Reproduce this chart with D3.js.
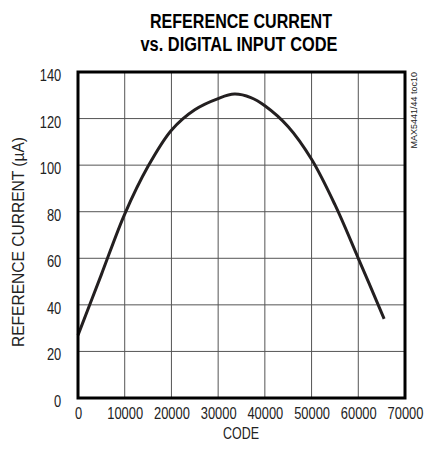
<!DOCTYPE html>
<html>
<head>
<meta charset="utf-8">
<script src="https://cdn.jsdelivr.net/npm/d3@7"></script>
<style>
  body { margin: 0; background: #fff; }
  text { font-family: "Liberation Sans", Arial, sans-serif; }
</style>
</head>
<body>
<svg width="425" height="454"></svg>
<script>
const svg = d3.select("svg");

// data
const codes = [0, 5000, 10000, 15000, 20000, 25000, 30000, 33500, 37000,
  40000, 45000, 50000, 55000, 60000, 65535];
const currents = [27, 53, 79, 99.5, 115, 123.8, 128.6, 130.5, 129,
  125.5, 116.5, 102.5, 83, 60, 34];
const xTicks = [0, 10000, 20000, 30000, 40000, 50000, 60000, 70000];
const yTicks = [0, 20, 40, 60, 80, 100, 120, 140];

const margin = { top: 72, right: 20, bottom: 56, left: 78 };
const plotW = 405 - margin.left;
const plotH = 398 - margin.top;
const narrow = "scale(0.76,1)";

const x = d3.scaleLinear().domain([0, 70000]).range([0, plotW]);
const y = d3.scaleLinear().domain([0, 140]).range([plotH, 0]);

// title
const title = svg.append("g")
  .attr("font-weight", "bold")
  .attr("font-size", "20px")
  .attr("text-anchor", "middle")
  .attr("fill", "#000");
title.append("text").attr("x", 241).attr("y", 28)
  .attr("textLength", 182).attr("lengthAdjust", "spacingAndGlyphs")
  .text("REFERENCE CURRENT");
title.append("text").attr("x", 239).attr("y", 51)
  .attr("textLength", 197).attr("lengthAdjust", "spacingAndGlyphs")
  .text("vs. DIGITAL INPUT CODE");

const g = svg.append("g")
  .attr("transform", `translate(${margin.left},${margin.top})`);

// grid
g.selectAll(".vgrid")
  .data(xTicks.slice(1, -1))
  .enter().append("line")
  .attr("x1", d => x(d)).attr("x2", d => x(d))
  .attr("y1", 0).attr("y2", plotH)
  .attr("stroke", "#555").attr("stroke-width", 1);

g.selectAll(".hgrid")
  .data(yTicks.slice(1, -1))
  .enter().append("line")
  .attr("x1", 0).attr("x2", plotW)
  .attr("y1", d => y(d)).attr("y2", d => y(d))
  .attr("stroke", "#555").attr("stroke-width", 1);

// axes (labels only, no tick marks)
const xAxis = g.append("g")
  .attr("transform", `translate(0,${plotH})`)
  .call(d3.axisBottom(x).tickValues(xTicks).tickSize(0).tickPadding(9).tickFormat(d3.format("d")));
const yAxis = g.append("g")
  .call(d3.axisLeft(y).tickValues(yTicks).tickSize(0).tickPadding(22));
[xAxis, yAxis].forEach(a => {
  a.select(".domain").remove();
  a.selectAll("text")
    .attr("font-size", "17px")
    .attr("fill", "#222")
    .attr("transform", narrow)
    .style("font-family", '"Liberation Sans", Arial, sans-serif');
});
yAxis.selectAll("text").attr("dy", "0.5em");

// curve
const line = d3.line()
  .x((d, i) => x(codes[i]))
  .y(d => y(d))
  .curve(d3.curveCatmullRom);

g.append("path")
  .attr("d", line(currents))
  .attr("fill", "none")
  .attr("stroke", "#231f20")
  .attr("stroke-width", 3);

// frame
g.append("rect")
  .attr("x", 0).attr("y", 0)
  .attr("width", plotW).attr("height", plotH)
  .attr("fill", "none")
  .attr("stroke", "#000")
  .attr("stroke-width", 3);

// axis titles
svg.append("text")
  .attr("x", 241).attr("y", 439)
  .attr("text-anchor", "middle")
  .attr("font-size", "17px")
  .attr("fill", "#222")
  .attr("textLength", 36).attr("lengthAdjust", "spacingAndGlyphs")
  .text("CODE");

svg.append("text")
  .attr("transform", "translate(24,242) rotate(-90)")
  .attr("text-anchor", "middle")
  .attr("font-size", "16px")
  .attr("fill", "#222")
  .attr("textLength", 210).attr("lengthAdjust", "spacingAndGlyphs")
  .text("REFERENCE CURRENT (\u00b5A)");

svg.append("text")
  .attr("transform", "translate(417,72) rotate(-90)")
  .attr("text-anchor", "end")
  .attr("font-size", "9px")
  .attr("fill", "#222")
  .text("MAX5441/44 toc10");
</script>
</body>
</html>
